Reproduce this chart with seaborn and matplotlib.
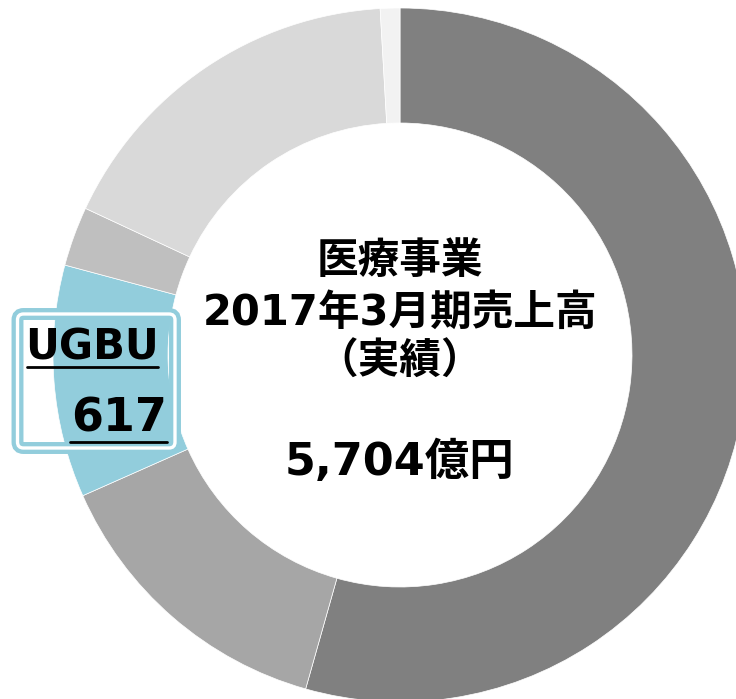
import matplotlib.pyplot as plt
import seaborn as sns
from matplotlib.patches import FancyBboxPatch

# 医療事業 segments, 億円 (clockwise from 12 o'clock)
segments = ["seg_a", "seg_b", "UGBU", "seg_c", "seg_d", "seg_e"]
sales = [3102, 797, 617, 158, 978, 52]
seg_colors = ["#808080", "#a6a6a6", "#92cddc", "#bfbfbf", "#d9d9d9", "#f2f2f2"]

title_lines = ["医療事業", "2017年3月期売上高", "（実績）"]
total_label = "5,704億円"
focus_name = "UGBU"
focus_value = "617"

sns.set_theme(style="white")
plt.rcParams["font.family"] = ["DejaVu Sans", "Noto Sans CJK JP"]

W, H = 736, 699
fig = plt.figure(figsize=(W / 100, H / 100), dpi=100)
ax = fig.add_axes([0, 0, 1, 1])

# donut (pixel-like data coords, y up)
cx, cy = 400, H - 355
ax.pie(
    sales,
    colors=sns.color_palette(seg_colors),
    startangle=90,
    counterclock=False,
    radius=347,
    center=(cx, cy),
    wedgeprops=dict(width=115, edgecolor="white", linewidth=0.5),
)
ax.set_xlim(0, W)
ax.set_ylim(0, H)
ax.axis("off")

# center text
for text, y in zip(title_lines, [261, 313, 362]):
    ax.text(cx, H - y, text, ha="center", va="center",
            fontsize=30, fontweight="bold", color="black")
ax.text(cx, H - 462, total_label, ha="center", va="center",
        fontsize=32, fontweight="bold", color="black")

# UGBU callout box (double border)
box_kw = dict(boxstyle="round,pad=0,rounding_size=6", facecolor="none")
ax.add_patch(FancyBboxPatch((17.5, H - 448), 157.5, 134,
                            edgecolor="#92cddc", linewidth=8.6, **box_kw))
ax.add_patch(FancyBboxPatch((17.5, H - 448), 157.5, 134,
                            edgecolor="white", linewidth=2.4, **box_kw))

ax.text(92, H - 347, focus_name, ha="center", va="center",
        fontsize=30, fontweight="bold", color="black")
ax.plot([27, 158], [H - 367, H - 367], color="black", linewidth=2)
ax.text(119, H - 419, focus_value, ha="center", va="center",
        fontsize=33, fontweight="bold", color="black")
ax.plot([70, 167], [H - 442, H - 442], color="black", linewidth=2)

fig.savefig("out.png", dpi=100)
